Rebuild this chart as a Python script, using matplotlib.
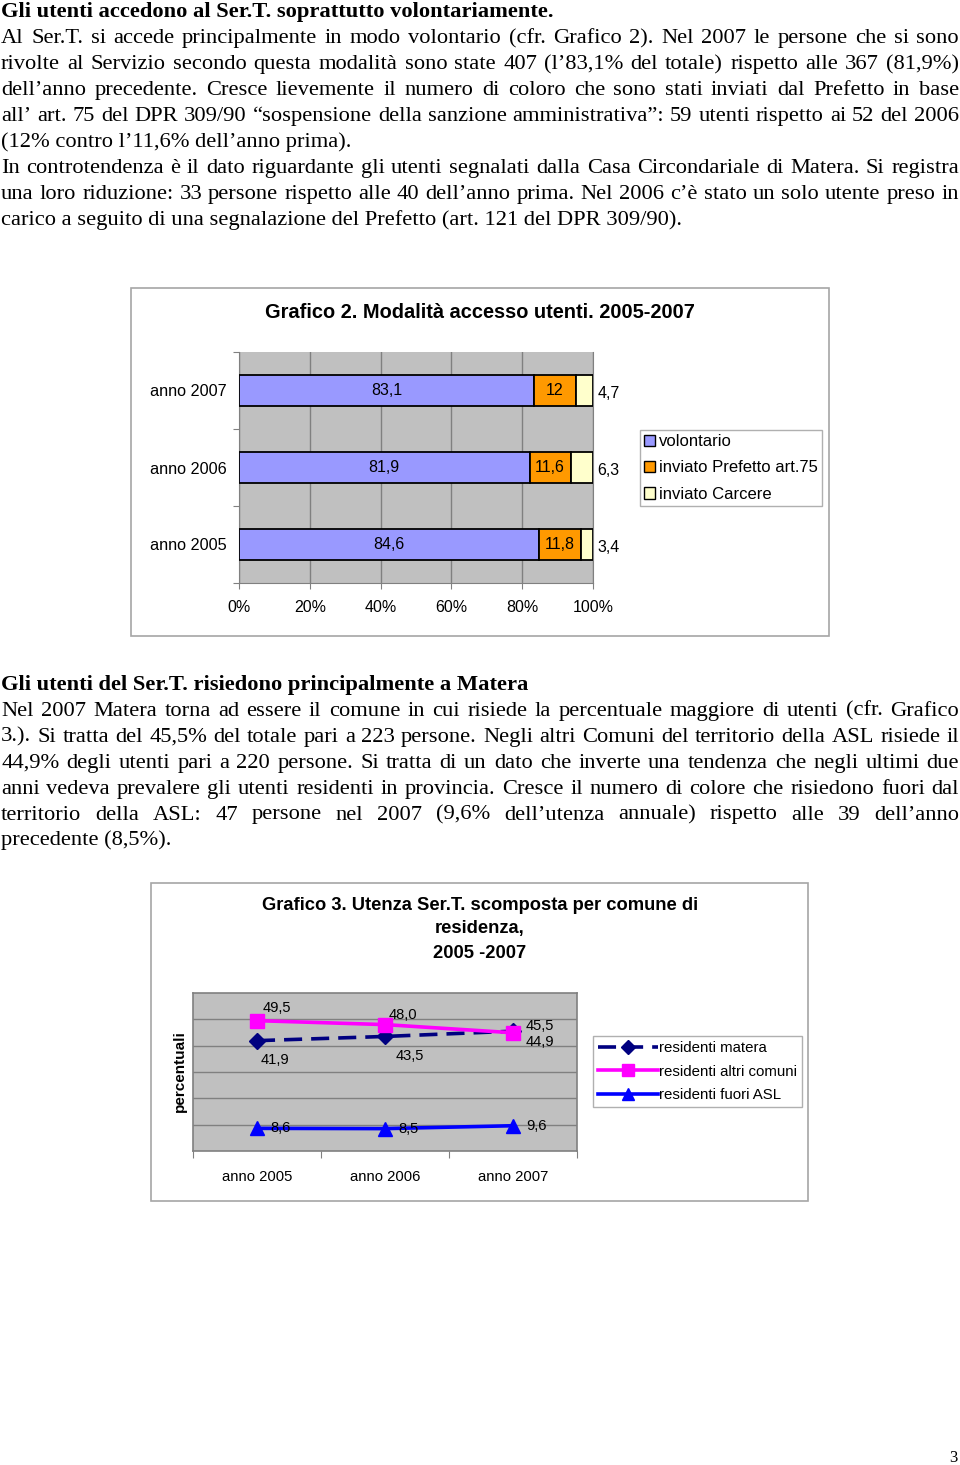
"""Page with two charts: access modality (Grafico 2) and residence (Grafico 3)."""

import matplotlib
matplotlib.use("Agg")
import matplotlib.pyplot as plt
from matplotlib.font_manager import FontProperties
from matplotlib.lines import Line2D
from matplotlib.patches import Patch, Rectangle

W, H = 960, 1465

# Grafico 2 - modalita' di accesso (percentuali)
years_g2 = ["anno 2005", "anno 2006", "anno 2007"]
volontario = [84.6, 81.9, 83.1]
prefetto = [11.8, 11.6, 12.0]
carcere = [3.4, 6.3, 4.7]
volontario_lbl = ["84,6", "81,9", "83,1"]
prefetto_lbl = ["11,8", "11,6", "12"]
carcere_lbl = ["3,4", "6,3", "4,7"]
series_g2 = ["volontario", "inviato Prefetto art.75", "inviato Carcere"]

# Grafico 3 - comune di residenza (percentuali)
years_g3 = ["anno 2005", "anno 2006", "anno 2007"]
res_matera = [41.9, 43.5, 45.5]
res_altri = [49.5, 48.0, 44.9]
res_fuori = [8.6, 8.5, 9.6]
series_g3 = ["residenti matera", "residenti altri comuni", "residenti fuori ASL"]

para1 = [
    ("Gli utenti accedono al Ser.T. soprattutto volontariamente.", "bold", False),
    ("Al Ser.T. si accede principalmente in modo volontario (cfr. Grafico 2). Nel 2007  le persone che si sono", "normal", True),
    ("rivolte al Servizio secondo questa modalità sono state 407 (l’83,1% del totale) rispetto alle  367 (81,9%)", "normal", True),
    ("dell’anno precedente. Cresce lievemente il numero  di coloro che  sono stati  inviati  dal Prefetto  in base", "normal", True),
    ("all’ art. 75 del DPR 309/90 “sospensione della sanzione amministrativa”: 59 utenti  rispetto ai 52 del 2006", "normal", True),
    ("(12% contro l’11,6% dell’anno prima).", "normal", False),
    ("In controtendenza è il dato riguardante gli utenti  segnalati dalla Casa Circondariale di Matera. Si registra", "normal", True),
    ("una loro riduzione: 33 persone  rispetto alle 40 dell’anno prima. Nel 2006 c’è stato un solo utente preso in", "normal", True),
    ("carico a seguito di una segnalazione del Prefetto (art. 121 del DPR 309/90).", "normal", False),
]
para2 = [
    ("Gli utenti del Ser.T. risiedono principalmente a Matera", "bold", False),
    ("Nel 2007 Matera torna ad essere il comune in cui risiede  la percentuale maggiore di utenti (cfr. Grafico", "normal", True),
    ("3.). Si tratta del 45,5% del totale pari a 223 persone. Negli altri Comuni del territorio della ASL risiede il", "normal", True),
    ("44,9% degli utenti pari a  220 persone. Si tratta di un dato che inverte una tendenza che negli ultimi due", "normal", True),
    ("anni vedeva prevalere gli  utenti residenti in provincia.  Cresce il numero di colore che risiedono fuori dal", "normal", True),
    ("territorio della ASL: 47 persone nel 2007 (9,6% dell’utenza annuale)    rispetto alle   39 dell’anno", "normal", True),
    ("precedente (8,5%).", "normal", False),
]

SERIF = "Liberation Serif"
SANS = "Liberation Sans"
BODY_SIZE = 16.2


def rect(x0, y0, x1, y1):
    """Pixel box (top-left origin) to figure fraction."""
    return [x0 / W, 1 - y1 / H, (x1 - x0) / W, (y1 - y0) / H]


fig = plt.figure(figsize=(W / 100, H / 100), dpi=100)
fig.patch.set_facecolor("white")
page = fig.add_axes([0, 0, 1, 1])
page.set_xlim(0, W)
page.set_ylim(H, 0)
page.axis("off")
renderer = fig.canvas.get_renderer()


def write_paragraph(lines, y0, pitch=25.9, left=1, right=959):
    for i, (s, weight, justify) in enumerate(lines):
        fp = FontProperties(family=SERIF, weight=weight, size=BODY_SIZE)
        y = y0 + i * pitch
        if not justify:
            page.text(left, y, s, fontproperties=fp, va="baseline", ha="left")
            continue
        words = s.split()
        widths = [renderer.get_text_width_height_descent(w, fp, ismath=False)[0] for w in words]
        gap = (right - left - sum(widths)) / (len(words) - 1)
        x = left
        for w, wd in zip(words, widths):
            page.text(x, y, w, fontproperties=fp, va="baseline", ha="left")
            x += wd + gap


write_paragraph(para1, 17.5)
write_paragraph(para2, 690)
page.text(953, 1462, "3", family=SERIF, fontsize=12, ha="center", va="baseline")

# ---------------- Grafico 2 ----------------
page.add_patch(Rectangle((131, 288), 698, 348, fill=False, ec="#A6A6A6", lw=1.2))
page.text(480, 312, "Grafico 2. Modalità accesso utenti. 2005-2007", family=SANS,
          weight="bold", fontsize=14.4, ha="center", va="center")

ax2 = fig.add_axes(rect(239, 352, 593, 583))
ax2.set_facecolor("#C0C0C0")
ypos = list(range(len(years_g2)))
totals = [a + b + c for a, b, c in zip(volontario, prefetto, carcere)]
v_n = [v / t * 100 for v, t in zip(volontario, totals)]
p_n = [v / t * 100 for v, t in zip(prefetto, totals)]
c_n = [v / t * 100 for v, t in zip(carcere, totals)]
left_p = v_n
left_c = [a + b for a, b in zip(v_n, p_n)]
bar_kw = dict(height=0.4, edgecolor="black", linewidth=1.3, zorder=3)
ax2.barh(ypos, v_n, color="#9999FF", **bar_kw)
ax2.barh(ypos, p_n, left=left_p, color="#FF9900", **bar_kw)
ax2.barh(ypos, c_n, left=left_c, color="#FFFFCC", **bar_kw)
for i in ypos:
    ax2.text(v_n[i] / 2, i, volontario_lbl[i], ha="center", va="center", family=SANS, fontsize=11.5, zorder=4)
    ax2.text(left_p[i] + p_n[i] / 2, i, prefetto_lbl[i], ha="center", va="center", family=SANS,
             fontsize=11.5, zorder=4)
    ax2.text(101.3, i - 0.04, carcere_lbl[i], ha="left", va="center", family=SANS, fontsize=11.5,
             zorder=4, clip_on=False)
ax2.set_xlim(0, 100)
ax2.set_ylim(-0.5, len(years_g2) - 0.5)
ax2.set_xticks(range(0, 101, 20))
ax2.set_xticklabels([f"{v}%" for v in range(0, 101, 20)], family=SANS, fontsize=11.5)
ax2.xaxis.grid(True, color="#808080", lw=1, zorder=1)
ax2.set_yticks([i - 0.5 for i in range(len(years_g2) + 1)])
ax2.set_yticklabels([])
ax2.set_yticks(ypos, minor=True)
ax2.set_yticklabels(years_g2, minor=True, family=SANS, fontsize=11.7)
ax2.tick_params(axis="y", which="minor", length=0, pad=9)
ax2.tick_params(axis="both", which="major", length=4, color="#808080", pad=8)
ax2.spines["top"].set_visible(False)
for side in ["left", "bottom", "right"]:
    ax2.spines[side].set_color("#808080")
ax2.set_axisbelow(True)

h2 = [Patch(facecolor=c, edgecolor="black", lw=1) for c in ["#9999FF", "#FF9900", "#FFFFCC"]]
fig.legend(h2, series_g2, loc="upper left", bbox_to_anchor=(640 / W, 1 - 430 / H),
           frameon=True, fancybox=False, edgecolor="#B0B0B0", framealpha=1,
           prop=FontProperties(family=SANS, size=12), handlelength=0.65, handleheight=0.65,
           handletextpad=0.25, labelspacing=0.68, borderpad=0.25, borderaxespad=0)

# ---------------- Grafico 3 ----------------
page.add_patch(Rectangle((151, 883), 657, 318, fill=False, ec="#A6A6A6", lw=1.2))
for yy, s in zip([906, 929, 953], ["Grafico 3. Utenza Ser.T. scomposta per comune di",
                                   "residenza,", "2005 -2007"]):
    page.text(480, yy, s, family=SANS, weight="bold", fontsize=13.2, ha="center", va="center")
page.text(180, 1071, "percentuali", family=SANS, weight="bold", fontsize=11,
          rotation=90, ha="center", va="center")

ax3 = fig.add_axes(rect(193, 993, 577, 1151))
ax3.set_facecolor("#C0C0C0")
xpos = list(range(len(years_g3)))
ax3.plot(xpos, res_fuori, color="#0000FF", lw=2.6, marker="^", ms=10.5, zorder=3)
ax3.plot(xpos, res_matera, color="#000080", lw=2.6, ls=(0, (5, 2.5)), marker="D", ms=8.5, zorder=3)
ax3.plot(xpos, res_altri, color="#FF00FF", lw=2.6, marker="s", ms=10.5, zorder=4)

fmt = lambda v: f"{v:.1f}".replace(".", ",")
off_matera = [(13, -14), (18, -14), (19, 4)]
off_altri = [(14, 9), (13, 7), (19, -7)]
off_fuori = [(17, 0), (17, 0), (17, 0)]
for vals, offs in [(res_matera, off_matera), (res_altri, off_altri), (res_fuori, off_fuori)]:
    for i, v in enumerate(vals):
        ax3.annotate(fmt(v), (i, v), xytext=offs[i], textcoords="offset points",
                     ha="center", va="center", family=SANS, fontsize=10.6, zorder=5)

ax3.set_xlim(-0.5, len(years_g3) - 0.5)
ax3.set_ylim(0, 60)
ax3.set_yticks(range(10, 60, 10))
ax3.yaxis.grid(True, color="#808080", lw=1, zorder=1)
ax3.tick_params(axis="y", length=0, labelleft=False)
ax3.set_xticks([i - 0.5 for i in range(len(years_g3) + 1)])
ax3.set_xticklabels([])
ax3.set_xticks(xpos, minor=True)
ax3.set_xticklabels(years_g3, minor=True, family=SANS, fontsize=10.7)
ax3.tick_params(axis="x", which="major", length=5, color="#808080")
ax3.tick_params(axis="x", which="minor", length=0, pad=14)
for side in ax3.spines:
    ax3.spines[side].set_color("#808080")
    ax3.spines[side].set_linewidth(1.2)
ax3.set_axisbelow(True)

h3 = [
    Line2D([], [], color="#000080", lw=2.6, ls=(0, (5, 2.5)), marker="D", ms=7),
    Line2D([], [], color="#FF00FF", lw=2.6, marker="s", ms=9),
    Line2D([], [], color="#0000FF", lw=2.6, marker="^", ms=9),
]
fig.legend(h3, series_g3, loc="upper left", bbox_to_anchor=(593 / W, 1 - 1036 / H),
           frameon=True, fancybox=False, edgecolor="#B0B0B0", framealpha=1,
           prop=FontProperties(family=SANS, size=10.8), handlelength=4.0,
           handletextpad=0.1, labelspacing=0.65, borderpad=0.32, borderaxespad=0)

fig.savefig("out.png", dpi=100)
plt.close(fig)
